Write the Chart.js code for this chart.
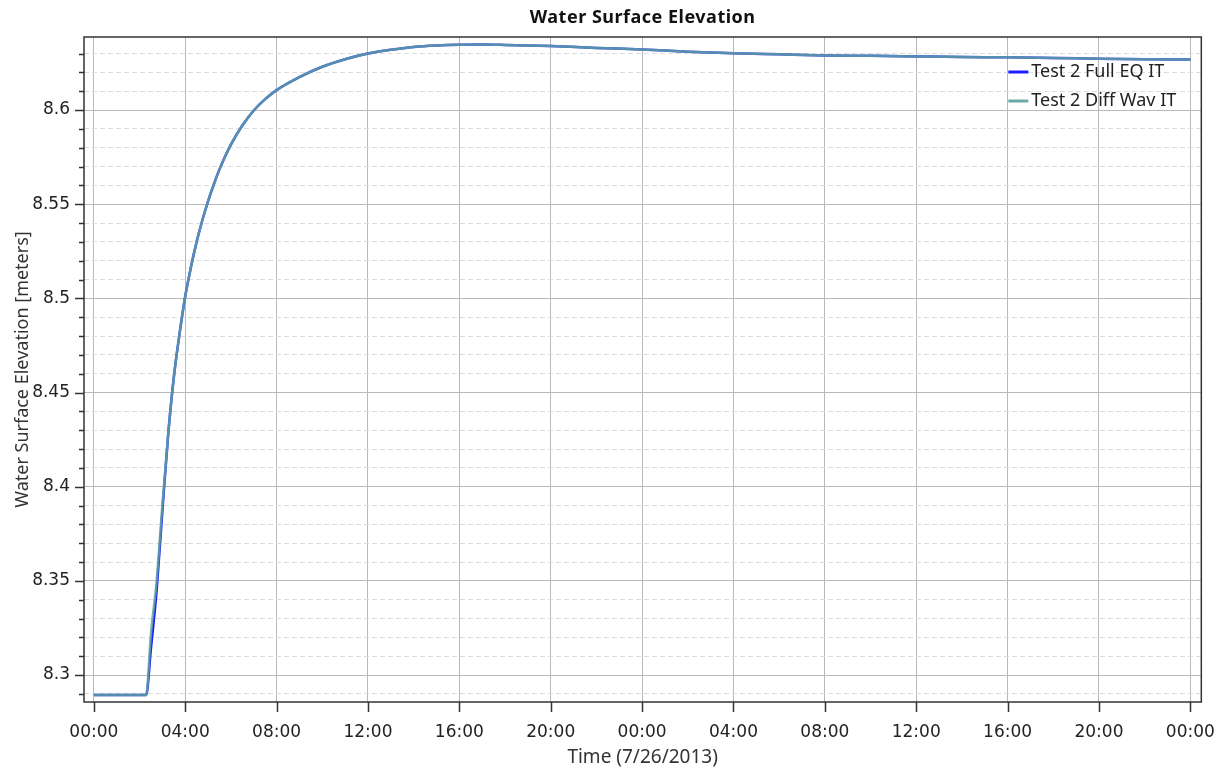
<!DOCTYPE html>
<html>
<head>
<meta charset="utf-8">
<title>Water Surface Elevation</title>
<script src="https://cdn.jsdelivr.net/npm/chart.js@4.4.0/dist/chart.umd.min.js"></script>
<style>
    html, body { margin: 0; padding: 0; background: #fff; }
    #wrap { width: 1225px; height: 769px; }
</style>
</head>
<body>
<div id="wrap"><canvas id="wseChart" width="1225" height="769"></canvas></div>
<script>
'use strict';

// =========================================================
// DATA
// =========================================================

const CHART_TITLE = 'Water Surface Elevation';
const X_TITLE = 'Time (7/26/2013)';
const Y_TITLE = 'Water Surface Elevation [meters]';

// time in hours since 00:00 on 7/26/2013
const HOURS = [
    0, 1, 2, 2.29,
    2.5, 2.75, 3, 3.25, 3.5, 3.75, 4,
    4.25, 4.5, 4.75, 5, 5.25, 5.5, 5.75,
    6, 6.5, 7, 7.5, 8,
    9, 10, 11, 12, 13, 14, 15, 16, 17, 18,
    20, 22, 24, 26, 28, 30, 32, 34, 36, 38, 40, 42, 44, 46, 48,
];

const FULL_EQ_IT = [
    8.2894, 8.2894, 8.2894, 8.2894,
    8.314, 8.345, 8.387, 8.427, 8.458, 8.481, 8.501,
    8.5165, 8.530, 8.5415, 8.5515, 8.5605, 8.5685, 8.5755,
    8.5817, 8.5918, 8.5998, 8.6058, 8.6106,
    8.6175, 8.623, 8.627, 8.630, 8.632, 8.6335, 8.6343, 8.6347, 8.6348, 8.6346,
    8.634, 8.633, 8.6322, 8.631, 8.6302, 8.6296, 8.629, 8.6288, 8.6285, 8.6282, 8.628, 8.6277, 8.6273, 8.627, 8.6268,
];

const DIFF_WAV_IT = [
    8.2894, 8.2894, 8.2894, 8.2894,
    8.322, 8.350, 8.390, 8.427, 8.458, 8.481, 8.501,
    8.5165, 8.530, 8.5415, 8.5515, 8.5605, 8.5685, 8.5755,
    8.5817, 8.5918, 8.5998, 8.6058, 8.6106,
    8.6175, 8.623, 8.627, 8.630, 8.632, 8.6335, 8.6343, 8.6347, 8.6348, 8.6346,
    8.634, 8.633, 8.6322, 8.631, 8.6302, 8.6296, 8.629, 8.6288, 8.6285, 8.6282, 8.628, 8.6277, 8.6273, 8.627, 8.6268,
];

const SERIES_LABELS = ['Test 2 Full EQ IT', 'Test 2 Diff Wav IT'];
const SERIES_COLORS = ['#1c1cff', '#68aaa7'];

const X_TICKS = [0, 4, 8, 12, 16, 20, 24, 28, 32, 36, 40, 44, 48];
const X_TICK_LABELS = [
    '00:00', '04:00', '08:00', '12:00', '16:00', '20:00',
    '00:00', '04:00', '08:00', '12:00', '16:00', '20:00', '00:00',
];

const Y_TICKS = [
    8.29, 8.30, 8.31, 8.32, 8.33, 8.34, 8.35, 8.36, 8.37, 8.38, 8.39,
    8.40, 8.41, 8.42, 8.43, 8.44, 8.45, 8.46, 8.47, 8.48, 8.49,
    8.50, 8.51, 8.52, 8.53, 8.54, 8.55, 8.56, 8.57, 8.58, 8.59,
    8.60, 8.61, 8.62, 8.63,
];
const Y_MAJOR_TICKS = [8.3, 8.35, 8.4, 8.45, 8.5, 8.55, 8.6];
const Y_TICK_LABELS = ['8.3', '8.35', '8.4', '8.45', '8.5', '8.55', '8.6'];

const X_MIN = -0.43;
const X_MAX = 48.48;
const Y_MIN = 8.2857;
const Y_MAX = 8.6388;


// =========================================================
// HELPERS
// =========================================================

const majorIndex = (value) => Y_MAJOR_TICKS.findIndex((m) => Math.abs(m - value) < 1e-6);

const isMajor = (ctx) => ctx.tick !== undefined && majorIndex(ctx.tick.value) !== -1;

const toPoints = (values) => HOURS.map((hour, index) => ({ x: hour, y: values[index] }));


// =========================================================
// DECORATION PLUGIN
// title, frame, tick marks, legend inside the plot
// =========================================================

const decorPlugin = {
    id: 'decor',

    afterDraw(chart) {
        const { ctx, chartArea, scales } = chart;

        ctx.save();

        // title centred over the plot area
        ctx.fillStyle = '#111';
        ctx.font = 'bold 18px "Noto Sans"';
        ctx.letterSpacing = '0.5px';
        ctx.textAlign = 'center';
        ctx.textBaseline = 'middle';
        ctx.fillText(CHART_TITLE, (chartArea.left + chartArea.right) / 2, 18);
        ctx.letterSpacing = '0px';

        // tick marks
        ctx.strokeStyle = '#333';
        ctx.lineWidth = 1.5;
        ctx.beginPath();
        scales.y.ticks.forEach((tick) => {
            const y = Math.round(scales.y.getPixelForValue(tick.value)) + 0.5;
            const length = majorIndex(tick.value) !== -1 ? 9 : 5;
            ctx.moveTo(chartArea.left - length, y);
            ctx.lineTo(chartArea.left, y);
        });
        scales.x.ticks.forEach((tick) => {
            const x = Math.round(scales.x.getPixelForValue(tick.value)) + 0.5;
            ctx.moveTo(x, chartArea.bottom);
            ctx.lineTo(x, chartArea.bottom + 10);
        });
        ctx.stroke();

        // frame
        ctx.strokeStyle = '#333';
        ctx.lineWidth = 1.5;
        ctx.strokeRect(chartArea.left, chartArea.top, chartArea.right - chartArea.left, chartArea.bottom - chartArea.top);

        // legend
        const legendX = chartArea.right - 193;
        ctx.font = '18px "Noto Sans"';
        ctx.textAlign = 'left';
        ctx.textBaseline = 'middle';
        SERIES_LABELS.forEach((label, index) => {
            const y = chartArea.top + 35 + index * 29;
            ctx.strokeStyle = SERIES_COLORS[index];
            ctx.lineWidth = 3;
            ctx.beginPath();
            ctx.moveTo(legendX, y);
            ctx.lineTo(legendX + 20, y);
            ctx.stroke();
            ctx.fillStyle = '#222';
            ctx.fillText(label, legendX + 23, y);
        });

        ctx.restore();
    },
};


// =========================================================
// CHART
// =========================================================

const tickFont = { family: '"DejaVu Sans"', size: 17 };

const renderChart = () => {
    const canvas = document.querySelector('#wseChart');

    new Chart(canvas, {
        type: 'line',
        data: {
            datasets: [
                {
                    label: SERIES_LABELS[0],
                    data: toPoints(FULL_EQ_IT),
                    borderColor: SERIES_COLORS[0],
                    borderWidth: 2.5,
                    pointRadius: 0,
                    cubicInterpolationMode: 'monotone',
                    order: 2,
                },
                {
                    label: SERIES_LABELS[1],
                    data: toPoints(DIFF_WAV_IT),
                    borderColor: 'rgba(98, 164, 160, 0.84)',
                    borderWidth: 2.5,
                    pointRadius: 0,
                    cubicInterpolationMode: 'monotone',
                    order: 1,
                },
            ],
        },
        options: {
            responsive: false,
            animation: false,
            devicePixelRatio: 1,
            layout: {
                padding: { top: 37, right: 16, left: 0, bottom: 0 },
            },
            plugins: {
                legend: { display: false },
                title: { display: false },
                tooltip: { enabled: false },
            },
            scales: {
                x: {
                    type: 'linear',
                    min: X_MIN,
                    max: X_MAX,
                    afterBuildTicks: (scale) => {
                        scale.ticks = X_TICKS.map((value) => ({ value }));
                    },
                    afterFit: (scale) => {
                        scale.height = 67;
                    },
                    ticks: {
                        autoSkip: false,
                        maxRotation: 0,
                        padding: 10,
                        color: '#222',
                        font: tickFont,
                        callback: (value, index) => X_TICK_LABELS[index],
                    },
                    grid: {
                        color: '#b8b8b8',
                        lineWidth: 1,
                        tickLength: 10,
                        tickColor: 'transparent',
                    },
                    border: { display: false },
                    title: {
                        display: true,
                        text: X_TITLE,
                        color: '#333',
                        font: { family: '"Noto Sans"', size: 19 },
                        padding: { top: 0, bottom: 0 },
                    },
                },
                y: {
                    type: 'linear',
                    min: Y_MIN,
                    max: Y_MAX,
                    afterBuildTicks: (scale) => {
                        scale.ticks = Y_TICKS.map((value) => ({ value }));
                    },
                    afterFit: (scale) => {
                        scale.width = 84;
                    },
                    ticks: {
                        autoSkip: false,
                        padding: 5,
                        color: '#222',
                        font: tickFont,
                        callback: (value) => {
                            const index = majorIndex(value);
                            return index === -1 ? '' : Y_TICK_LABELS[index];
                        },
                    },
                    grid: {
                        color: (ctx) => (isMajor(ctx) ? '#b8b8b8' : '#dcdcdc'),
                        lineWidth: 1,
                        tickLength: 9,
                        tickColor: 'transparent',
                    },
                    border: {
                        display: false,
                        dash: (ctx) => (isMajor(ctx) || ctx.tick === undefined ? [] : [5, 3]),
                    },
                    title: {
                        display: true,
                        text: Y_TITLE,
                        color: '#333',
                        font: { family: '"Noto Sans"', size: 18 },
                        padding: { top: 12, bottom: 0 },
                    },
                },
            },
        },
        plugins: [decorPlugin],
    });
};

document.addEventListener('DOMContentLoaded', renderChart);
</script>
</body>
</html>
